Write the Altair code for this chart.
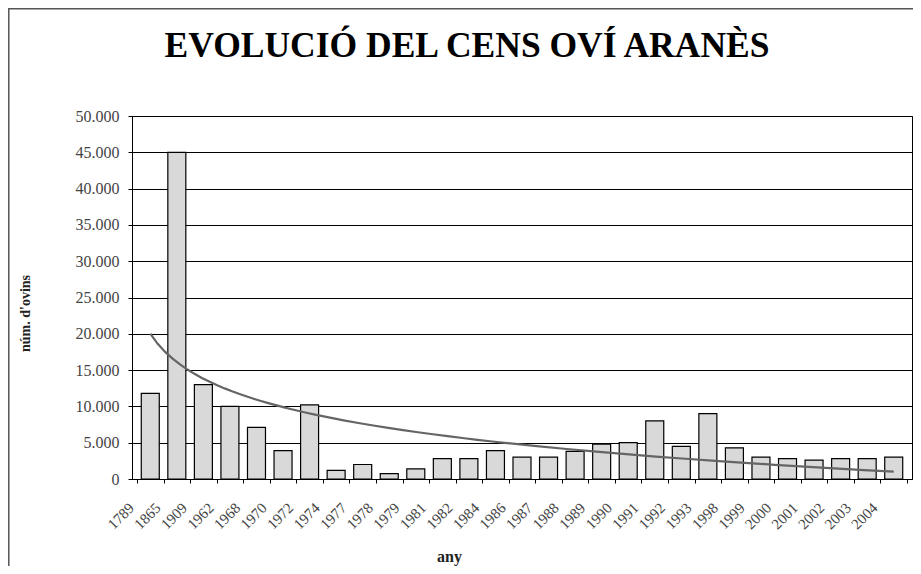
import altair as alt
import pandas as pd

years = ["1789", "1865", "1909", "1962", "1968", "1970", "1972", "1974", "1977",
         "1978", "1979", "1981", "1982", "1984", "1986", "1987", "1988", "1989",
         "1990", "1991", "1992", "1993", "1998", "1999", "2000", "2001", "2002",
         "2003", "2004"]
ovins = [11800, 45000, 13000, 10000, 7100, 3900, 10200, 1200, 2000,
         750, 1400, 2800, 2800, 3900, 3000, 3000, 3800, 4800,
         5000, 8000, 4500, 9000, 4300, 3000, 2800, 2600, 2800,
         2800, 3000]
y_ticks = list(range(0, 50001, 5000))
title_text = "EVOLUCIÓ DEL CENS OVÍ ARANÈS"

n = len(years)
df = pd.DataFrame({"any": years, "ovins": ovins, "idx": list(range(1, n + 1))})

FONT = "Liberation Serif"
TITLE_FONT = "'Liberation Serif', 'Times New Roman', 'DejaVu Serif', serif"
arr = "[" + ",".join("'" + y + "'" for y in years) + "]"
x_label_expr = f"datum.value < {n} ? {arr}[floor(datum.value)] : ''"

x_enc = alt.X(
    "idx:Q",
    scale=alt.Scale(domain=[0.5, n + 0.5], nice=False, zero=False),
    axis=alt.Axis(
        values=[i + 0.5 for i in range(n + 1)],
        labelExpr=x_label_expr,
        labelAngle=-45,
        labelAlign="right",
        labelBaseline="middle",
        labelOverlap=False,
        labelFlush=False,
        labelPadding=22,
        labelOffset=-6,
        labelFont=FONT,
        labelFontSize=15,
        labelColor="#444",
        tickSize=4,
        tickColor="black",
        domainColor="black",
        grid=False,
        title="any",
        titleFont=FONT,
        titleFontSize=16,
        titleFontWeight="bold",
        titleColor="#222",
        titleX=317,
        titleY=82,
        titleBaseline="alphabetic",
        titleAlign="center",
    ),
)

y_enc = alt.Y(
    "ovins:Q",
    scale=alt.Scale(domain=[0, 50000], nice=False),
    axis=alt.Axis(
        values=y_ticks,
        labelExpr="replace(format(datum.value, ','), ',', '.')",
        labelFont=FONT,
        labelFontSize=16,
        labelColor="#444",
        labelPadding=9,
        tickSize=4,
        tickColor="black",
        domainColor="black",
        grid=True,
        gridColor="black",
        gridWidth=1,
        title="núm. d'ovins",
        titleFont=FONT,
        titleFontSize=14,
        titleFontWeight="bold",
        titleColor="#222",
        titleX=-107,
        titleY=197,
        titleAngle=-90,
        titleAlign="center",
        titleBaseline="middle",
    ),
)

bars = alt.Chart(df).mark_bar(
    size=18, fill="#d9d9d9", stroke="black", strokeWidth=1.2
).encode(x=x_enc, y=y_enc)

trend = alt.Chart(df).transform_regression(
    "idx", "ovins", method="log"
).mark_line(color="#656565", strokeWidth=2.2).encode(x=x_enc, y=y_enc)

one = alt.Data(values=[{"k": 1}])

frame = alt.Chart(one).mark_rect(
    fill=None, stroke="#555", strokeWidth=1.5
).encode(
    x=alt.value(-123.2), x2=alt.value(900),
    y=alt.value(-107.2), y2=alt.value(600),
)

title = alt.Chart(one).mark_text(
    font=TITLE_FONT, fontSize=35.5, fontWeight="bold", color="black",
    align="center", baseline="alphabetic",
).encode(
    x=alt.value(335), y=alt.value(-59), text=alt.value(title_text),
)

chart = alt.layer(frame, bars, trend, title).properties(
    width=780,
    height=363,
    autosize=alt.AutoSizeParams(type="none"),
    padding={"left": 124, "top": 108, "right": 1, "bottom": 87},
).configure_view(stroke="black", strokeWidth=1)

chart.save("out.html", embed_options={"renderer": "svg", "actions": False})
